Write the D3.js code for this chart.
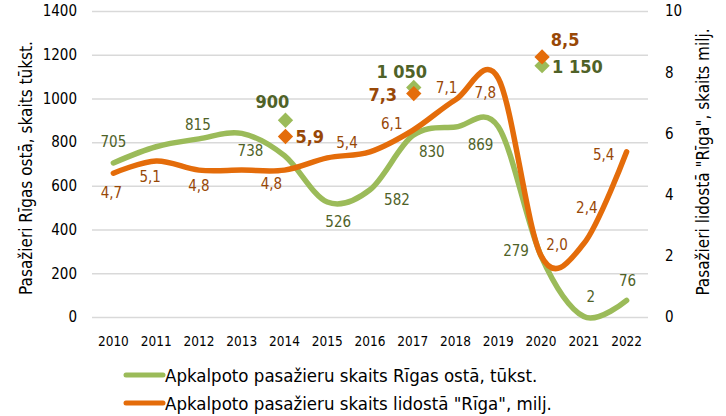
<!DOCTYPE html>
<html>
<head>
<meta charset="utf-8">
<script src="https://cdn.jsdelivr.net/npm/d3@7"></script>
<style>
  html, body { margin: 0; padding: 0; background: #ffffff; }
  svg { display: block; font-family: "DejaVu Sans Condensed", "DejaVu Sans", sans-serif; }
</style>
</head>
<body>
<svg id="chart" width="726" height="416"></svg>
<script>
// ---- Data ----
const years = [2010, 2011, 2012, 2013, 2014, 2015, 2016, 2017, 2018, 2019, 2020, 2021, 2022];
const portValues = [705, 779, 815, 840, 738, 526, 582, 830, 869, 870, 279, 2, 76];
const airportValues = [4.7, 5.1, 4.8, 4.8, 4.8, 5.2, 5.4, 6.1, 7.1, 7.8, 2.0, 2.4, 5.4];
const portLabels = ["705", null, "815", null, "738", "526", "582", "830", "869", null, "279", "2", "76"];
const airportLabels = ["4,7", "5,1", "4,8", null, "4,8", null, "5,4", "6,1", "7,1", "7,8", "2,0", "2,4", "5,4"];
const targetYears = [2014, 2017, 2020];
const targetPort = [900, 1050, 1150];
const targetPortLabels = ["900", "1 050", "1 150"];
const targetAirport = [5.9, 7.3, 8.5];
const targetAirportLabels = ["5,9", "7,3", "8,5"];
const leftTicks = [0, 200, 400, 600, 800, 1000, 1200, 1400];
const rightTicks = [0, 2, 4, 6, 8, 10];
const leftTitle = "Pasažieri Rīgas ostā, skaits tūkst.";
const rightTitle = "Pasažieri lidostā \"Rīga\", skaits milj.";
const legendNames = ["Apkalpoto pasažieru skaits Rīgas ostā, tūkst.", "Apkalpoto pasažieru skaits lidostā \"Rīga\", milj."];

// ---- Styles ----
const GREEN = "#9bbb59", ORANGE = "#e46c0a";
const GREEN_TXT = "#4f6228", ORANGE_TXT = "#984807";
const GRID = "#d9d9d9";

const svg = d3.select("#chart");
const plotLeft = 92, plotRight = 648, plotTop = 11, plotBottom = 317;

const x = d3.scaleBand().domain(years).range([plotLeft, plotRight]).padding(0);
const cx = d => x(d) + x.bandwidth() / 2;
const yL = d3.scaleLinear().domain([0, 1400]).range([plotBottom, plotTop]);
const yR = d3.scaleLinear().domain([0, 10]).range([plotBottom, plotTop]);

function cleanAxis(g, size) {
  g.attr("font-family", null).attr("font-size", null);
  g.select(".domain").remove();
  g.selectAll(".tick text").attr("font-size", size).attr("fill", "#000");
}

// Left axis + gridlines
const gL = svg.append("g").attr("transform", `translate(${plotLeft},0)`)
  .call(d3.axisLeft(yL).tickValues(leftTicks).tickSize(-(plotRight - plotLeft)).tickPadding(15).tickFormat(d3.format("d")));
cleanAxis(gL, 15);
gL.selectAll(".tick line").attr("stroke", GRID).attr("stroke-width", 1.5);

// Right axis
const gR = svg.append("g").attr("transform", `translate(${plotRight},0)`)
  .call(d3.axisRight(yR).tickValues(rightTicks).tickSize(0).tickPadding(17));
cleanAxis(gR, 15);

// Bottom axis
const gB = svg.append("g").attr("transform", `translate(0,${plotBottom})`)
  .call(d3.axisBottom(x).tickSize(0).tickPadding(19));
cleanAxis(gB, 13.5);

// Axis titles
svg.append("text").attr("transform", `translate(26,168) rotate(-90)`)
  .attr("text-anchor", "middle").attr("dominant-baseline", "central")
  .attr("font-size", 17).attr("fill", "#000").text(leftTitle);
svg.append("text").attr("transform", `translate(703,162) rotate(-90)`)
  .attr("text-anchor", "middle").attr("dominant-baseline", "central")
  .attr("font-size", 17).attr("fill", "#000").text(rightTitle);

// Lines
const lineL = d3.line().x((d, i) => cx(years[i])).y(d => yL(d)).curve(d3.curveCardinal.tension(0));
const lineR = d3.line().x((d, i) => cx(years[i])).y(d => yR(d)).curve(d3.curveCardinal.tension(0));

svg.append("path").datum(portValues).attr("d", lineL)
  .attr("fill", "none").attr("stroke", GREEN).attr("stroke-width", 5.5).attr("stroke-linecap", "round").attr("stroke-linejoin", "round");
svg.append("path").datum(airportValues).attr("d", lineR)
  .attr("fill", "none").attr("stroke", ORANGE).attr("stroke-width", 5.5).attr("stroke-linecap", "round").attr("stroke-linejoin", "round");

// Data labels (offsets relative to point, in px)
const portOff = [[0, -21], null, [-1, -14], null, [-34, -5], [11, 20], [27, 10], [19, 16], [25, 18], null, [-25, -5], [7, -20], [1, -19]];
const airOff = [[-2, 20], [-6, 16], [0, 16], null, [-13, 14], null, [-23, -9], [-21, -6], [-9, -12], [-13, 15], [16, -11], [3, -36], [-23, 3]];

svg.append("g").selectAll("text").data(portValues.map((v, i) => ({v, i}))
    .filter(d => portLabels[d.i] !== null))
  .join("text")
  .attr("x", d => cx(years[d.i]) + portOff[d.i][0])
  .attr("y", d => yL(d.v) + portOff[d.i][1])
  .attr("text-anchor", "middle").attr("dominant-baseline", "central")
  .attr("font-size", 15).attr("fill", GREEN_TXT)
  .text(d => portLabels[d.i]);

svg.append("g").selectAll("text").data(airportValues.map((v, i) => ({v, i}))
    .filter(d => airportLabels[d.i] !== null))
  .join("text")
  .attr("x", d => cx(years[d.i]) + airOff[d.i][0])
  .attr("y", d => yR(d.v) + airOff[d.i][1])
  .attr("text-anchor", "middle").attr("dominant-baseline", "central")
  .attr("font-size", 15).attr("fill", ORANGE_TXT)
  .text(d => airportLabels[d.i]);

// Target diamonds
const diamond = d3.symbol().type(d3.symbolDiamond2).size(150);
svg.append("g").selectAll("path").data(targetPort.map((v, i) => ({v, i})))
  .join("path")
  .attr("d", diamond)
  .attr("transform", d => `translate(${cx(targetYears[d.i]) + 1},${yL(d.v)})`)
  .attr("fill", GREEN);
svg.append("g").selectAll("path").data(targetAirport.map((v, i) => ({v, i})))
  .join("path")
  .attr("d", diamond)
  .attr("transform", d => `translate(${cx(targetYears[d.i]) + 1},${yR(d.v)})`)
  .attr("fill", ORANGE);

const tPortOff = [[-12, -19, "middle"], [-11, -16, "middle"], [11, 1, "start"]];
const tAirOff = [[11, 0, "start"], [-30, 1, "middle"], [24, -17, "middle"]];
svg.append("g").selectAll("text").data(targetPort.map((v, i) => ({v, i})))
  .join("text")
  .attr("x", d => cx(targetYears[d.i]) + tPortOff[d.i][0])
  .attr("y", d => yL(d.v) + tPortOff[d.i][1])
  .attr("text-anchor", d => tPortOff[d.i][2]).attr("dominant-baseline", "central")
  .attr("font-size", 18).attr("font-weight", "bold").attr("fill", GREEN_TXT)
  .text(d => targetPortLabels[d.i]);
svg.append("g").selectAll("text").data(targetAirport.map((v, i) => ({v, i})))
  .join("text")
  .attr("x", d => cx(targetYears[d.i]) + tAirOff[d.i][0])
  .attr("y", d => yR(d.v) + tAirOff[d.i][1])
  .attr("text-anchor", d => tAirOff[d.i][2]).attr("dominant-baseline", "central")
  .attr("font-size", 18).attr("font-weight", "bold").attr("fill", ORANGE_TXT)
  .text(d => targetAirportLabels[d.i]);

// Legend
const legColors = [GREEN, ORANGE];
const leg = svg.append("g").selectAll("g").data(legendNames).join("g")
  .attr("transform", (d, i) => `translate(0,${375 + i * 28})`);
leg.append("line").attr("x1", 126).attr("x2", 163).attr("y1", 0).attr("y2", 0)
  .attr("stroke", (d, i) => legColors[i]).attr("stroke-width", 5).attr("stroke-linecap", "round");
leg.append("text").attr("x", 165).attr("y", 0).attr("dominant-baseline", "central")
  .attr("font-size", 18.5).attr("fill", "#000").text(d => d);
</script>
</body>
</html>
